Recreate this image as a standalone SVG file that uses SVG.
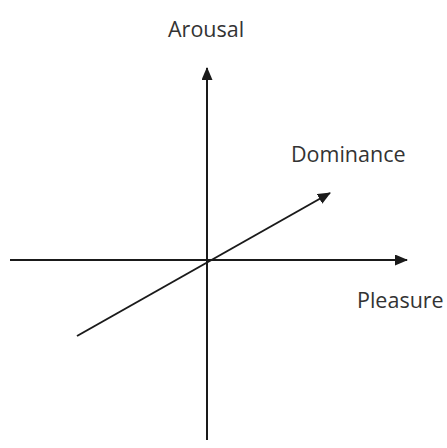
<svg xmlns="http://www.w3.org/2000/svg" width="447" height="448" viewBox="0 0 447 448">
<style>
.ax{stroke:#1a1a1a;stroke-width:2;fill:none}
.lbl{font-family:"Open Sans","Noto Sans",sans-serif;font-size:21.5px;fill:#333}
</style>
<defs>
<marker id="ah" markerWidth="13" markerHeight="11" refX="12" refY="5.5" orient="auto" markerUnits="userSpaceOnUse">
<path d="M0,0 L13,5.5 L0,11 Z" fill="#1a1a1a"/>
</marker>
</defs>
<rect width="447" height="448" fill="#fff"/>
<g id="connectors">
<line class="ax" x1="207" y1="440" x2="207" y2="68" marker-end="url(#ah)"/>
<line class="ax" x1="10" y1="260" x2="407" y2="260" marker-end="url(#ah)"/>
<line class="ax" x1="77" y1="336" x2="330" y2="193" marker-end="url(#ah)"/>
</g>
<g id="arousal"><text class="lbl" x="168" y="37">Arousal</text></g>
<g id="dominance"><text class="lbl" x="291" y="162">Dominance</text></g>
<g id="pleasure"><text class="lbl" x="357" y="308">Pleasure</text></g>
</svg>
